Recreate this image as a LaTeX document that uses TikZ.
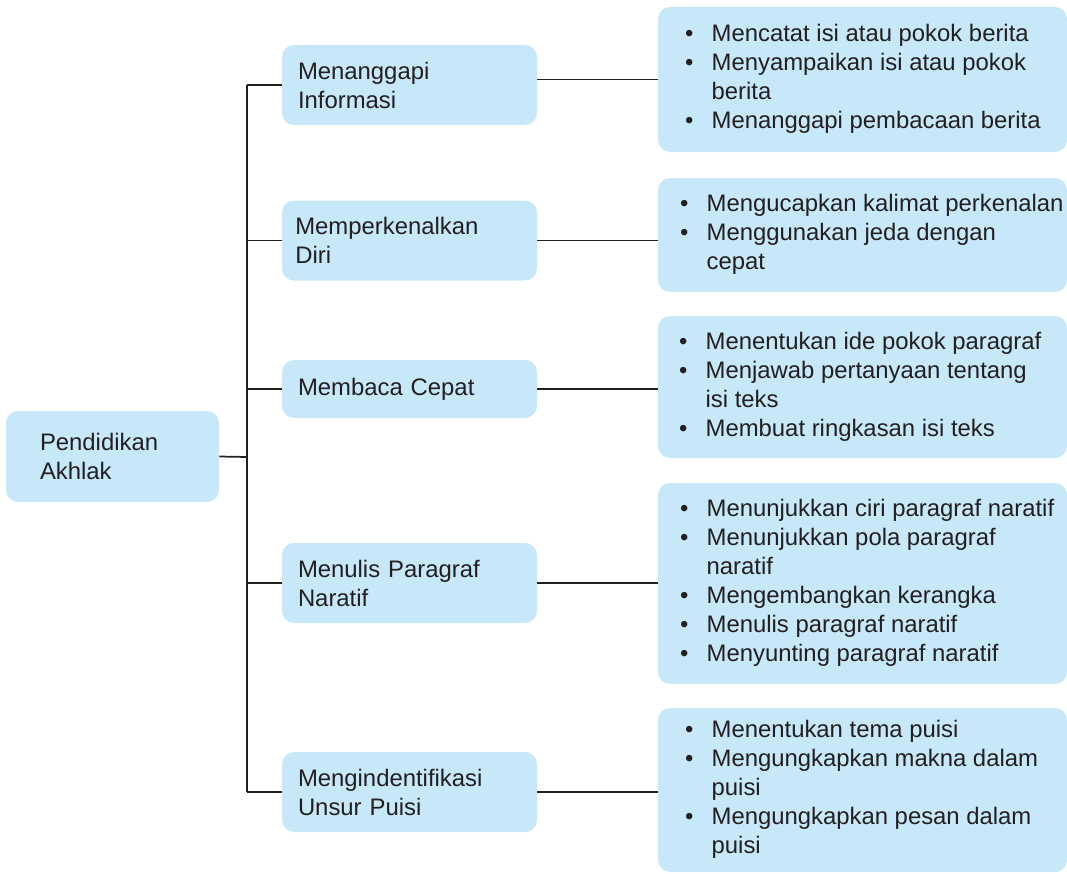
\documentclass[tikz,border=0pt]{standalone}
\usepackage{fontspec}
\setmainfont{Liberation Sans}
\definecolor{boxblue}{HTML}{C6E8F8}
\definecolor{ink}{HTML}{231F20}
\newcommand\bul{\textbullet}
\newenvironment{bullist}{\begin{tabular}{@{}p{20pt}@{}l@{}}}{\end{tabular}}
\newcommand\rbox[2]{\makebox[306.75pt][l]{\hspace*{#1}\begin{bullist}#2\end{bullist}}}
\tikzset{
  box/.style={fill=boxblue, draw=none, rounded corners=9pt, text=ink, align=left,
    font=\fontsize{17.9}{21.75}\selectfont, inner ysep=0pt},
  rootbox/.style={box, minimum width=159.75pt, minimum height=68.25pt, inner xsep=25.5pt, text width=108.75pt},
  midbox/.style={box, minimum width=191.25pt, minimum height=60pt, inner xsep=12pt, text width=167.25pt},
  rightbox/.style={box, minimum width=306.75pt, inner xsep=0pt},
  wire/.style={draw=ink, line width=1.3pt}
}
\begin{document}
\begin{tikzpicture}[x=0.75pt,y=-0.75pt]
\useasboundingbox (0,0) rectangle (1067,874);

\node[rootbox] (root) at (112.5,456.5) {Pendidikan\\Akhlak};

\node[midbox] (m1) at (409.5,85) {Menanggapi\\Informasi};
\node[midbox, inner xsep=10pt, text width=171.25pt] (m2) at (409.5,240.5) {Memperkenalkan\\Diri};
\node[midbox, minimum height=43.5pt] (m3) at (409.5,389) {Membaca Cepat};
\node[midbox] (m4) at (409.5,583) {Menulis Paragraf\\Naratif};
\node[midbox] (m5) at (409.5,792) {Mengindentifikasi\\Unsur Puisi};

\node[rightbox, minimum height=108.75pt] (r1) at (862.5,79.5)
  {\rbox{20.25pt}{\bul & Mencatat isi atau pokok berita\\ \bul & Menyampaikan isi atau pokok\\ & berita\\ \bul & Menanggapi pembacaan berita}};
\node[rightbox, minimum height=85.5pt] (r2) at (862.5,235)
  {\rbox{16.5pt}{\bul & Mengucapkan kalimat perkenalan\\ \bul & Menggunakan jeda dengan\\ & cepat}};
\node[rightbox, minimum height=106.5pt] (r3) at (862.5,387)
  {\rbox{15.75pt}{\bul & Menentukan ide pokok paragraf\\ \bul & Menjawab pertanyaan tentang\\ & isi teks\\ \bul & Membuat ringkasan isi teks}};
\node[rightbox, minimum height=150.75pt] (r4) at (862.5,583.5)
  {\rbox{16.5pt}{\bul & Menunjukkan ciri paragraf naratif\\ \bul & Menunjukkan pola paragraf\\ & naratif\\ \bul & Mengembangkan kerangka\\ \bul & Menulis paragraf naratif\\ \bul & Menyunting paragraf naratif}};
\node[rightbox, minimum height=123pt] (r5) at (862.5,790)
  {\rbox{20.25pt}{\bul & Menentukan tema puisi\\ \bul & Mengungkapkan makna dalam\\ & puisi\\ \bul & Mengungkapkan pesan dalam\\ & puisi}};

\coordinate (t) at (247,457);
\draw[wire] (root.east) -- (t);
\draw[wire] (t |- m1.west) -- (t |- m5.west);
\foreach \i in {1,...,5}{
  \draw[wire] (t |- m\i.west) -- (m\i.west);
}
\draw[wire] (m1.east |- r1.west) -- (r1.west);
\foreach \i in {2,...,5}{
  \draw[wire] (m\i.east) -- (r\i.west |- m\i.east);
}
\end{tikzpicture}
\end{document}
